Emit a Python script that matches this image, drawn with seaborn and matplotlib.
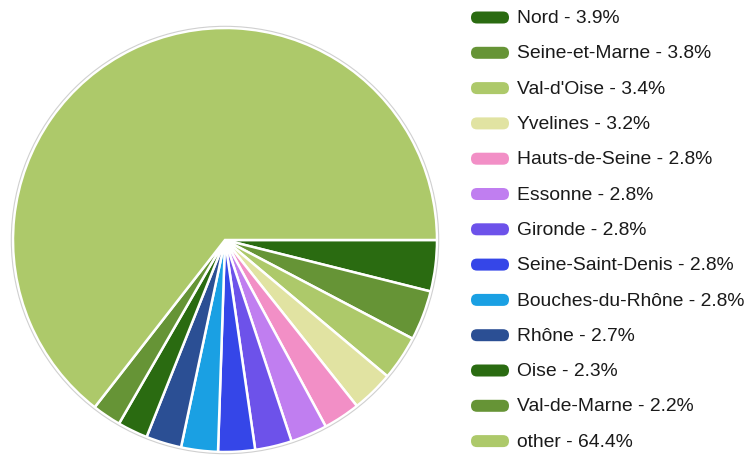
import matplotlib
matplotlib.use("Agg")
import matplotlib.pyplot as plt
import seaborn as sns
from matplotlib.patches import FancyBboxPatch, Circle

# data
departments = ["Nord", "Seine-et-Marne", "Val-d'Oise", "Yvelines", "Hauts-de-Seine",
               "Essonne", "Gironde", "Seine-Saint-Denis", "Bouches-du-Rhône", "Rhône",
               "Oise", "Val-de-Marne", "other"]
shares = [3.9, 3.8, 3.4, 3.2, 2.8, 2.8, 2.8, 2.8, 2.8, 2.7, 2.3, 2.2, 64.4]

base_colors = ["#2a6b11", "#669436", "#adc96a", "#e1e3a2", "#f28fc6",
               "#c07ef0", "#6d52ea", "#3546e8", "#1aa0e3", "#2b4f94"]
colors = sns.color_palette(base_colors + base_colors[:3])

sns.set_theme(style="white")
plt.rcParams['font.family'] = ['Liberation Sans', 'DejaVu Sans']

W, H = 754, 457
fig = plt.figure(figsize=(W / 100, H / 100), dpi=100)

# pie, centred at (225, 240) px, radius ~212 px
r_px = 212
lim = 1.02
side = 2 * lim * r_px
cx, cy = 225, 240
ax = fig.add_axes([(cx - side / 2) / W, (H - cy - side / 2) / H, side / W, side / H])
ax.pie(shares, colors=colors, startangle=0, counterclock=False,
       wedgeprops=dict(edgecolor="white", linewidth=1.8))
ax.add_patch(Circle((0, 0), 1.008, fill=False, edgecolor="#d0d0d0", linewidth=0.8))
ax.set_xlim(-lim, lim)
ax.set_ylim(-lim, lim)
ax.axis("off")

# legend drawn in pixel space
lg = fig.add_axes([0, 0, 1, 1])
lg.set_xlim(0, W)
lg.set_ylim(H, 0)
lg.axis("off")
for i, (name, val) in enumerate(zip(departments, shares)):
    yc = 17.5 + 35.3 * i
    lg.add_patch(FancyBboxPatch((471, yc - 6), 38, 12,
                                boxstyle="round,pad=0,rounding_size=6",
                                facecolor=colors[i], edgecolor="none"))
    lg.text(517, yc + 5.6, f"{name} - {val}%", fontsize=13.9,
            color="#1a1a1a", va="baseline", ha="left")

fig.savefig("out.png", dpi=100)
